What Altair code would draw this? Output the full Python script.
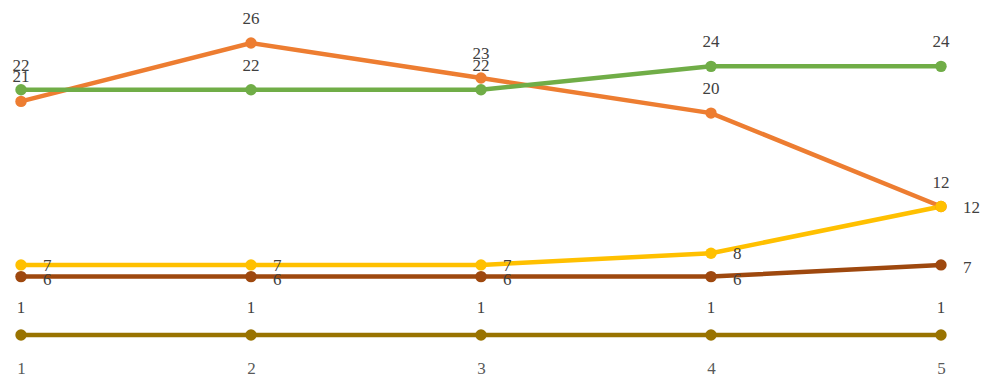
import altair as alt
import pandas as pd

categories = [1, 2, 3, 4, 5]
series_names = ["A", "B", "C", "D", "E"]
orange_vals = [21, 26, 23, 20, 12]
green_vals = [22, 22, 22, 24, 24]
yellow_vals = [7, 7, 7, 8, 12]
brown_vals = [6, 6, 6, 6, 7]
olive_vals = [1, 1, 1, 1, 1]
colors = ["#ED7D31", "#70AD47", "#FFC000", "#9E480E", "#997300"]

all_vals = [orange_vals, green_vals, yellow_vals, brown_vals, olive_vals]
rows = []
for name, vals in zip(series_names, all_vals):
    for c, v in zip(categories, vals):
        rows.append({"series": name, "x": c, "value": v})
df = pd.DataFrame(rows)

FONT = "Liberation Serif"
x_enc = alt.X("x:Q", scale=alt.Scale(domain=[1, 5], range=[21, 941]),
              axis=alt.Axis(values=categories, format="d", title=None, grid=False,
                            domain=False, ticks=False, labelPadding=10, labelFlush=False,
                            labelFont=FONT, labelFontSize=17, labelColor="#595959"))
y_enc = alt.Y("value:Q", scale=alt.Scale(domain=[1, 26], range=[335, 43]), axis=None)
color_enc = alt.Color("series:N", scale=alt.Scale(domain=series_names, range=colors), legend=None)

base = alt.Chart(df)
lines = base.mark_line(strokeWidth=4.5).encode(x=x_enc, y=y_enc, color=color_enc, detail="series:N")
points = base.mark_point(filled=True, size=130, opacity=1).encode(x=x_enc, y=y_enc, color=color_enc)

def above(names, dy):
    return base.transform_filter(alt.FieldOneOfPredicate(field="series", oneOf=names)).mark_text(
        font=FONT, fontSize=17, color="#404040", dy=dy, baseline="middle", align="center"
    ).encode(x=x_enc, y=y_enc, text="value:Q")

def right(names, dx, dy):
    return base.transform_filter(alt.FieldOneOfPredicate(field="series", oneOf=names)).mark_text(
        font=FONT, fontSize=17, color="#404040", dx=dx, dy=dy, baseline="middle", align="left"
    ).encode(x=x_enc, y=y_enc, text="value:Q")

chart = alt.layer(
    lines, points,
    above(["A", "B"], -24),
    above(["E"], -27),
    right(["C"], 22, 1),
    right(["D"], 22, 3),
).properties(
    width=990, height=350, padding=0,
    autosize=alt.AutoSizeParams(type="pad"),
    background="white",
).configure_view(stroke=None)

chart.save("out.html", embed_options={"renderer": "svg", "actions": False})
